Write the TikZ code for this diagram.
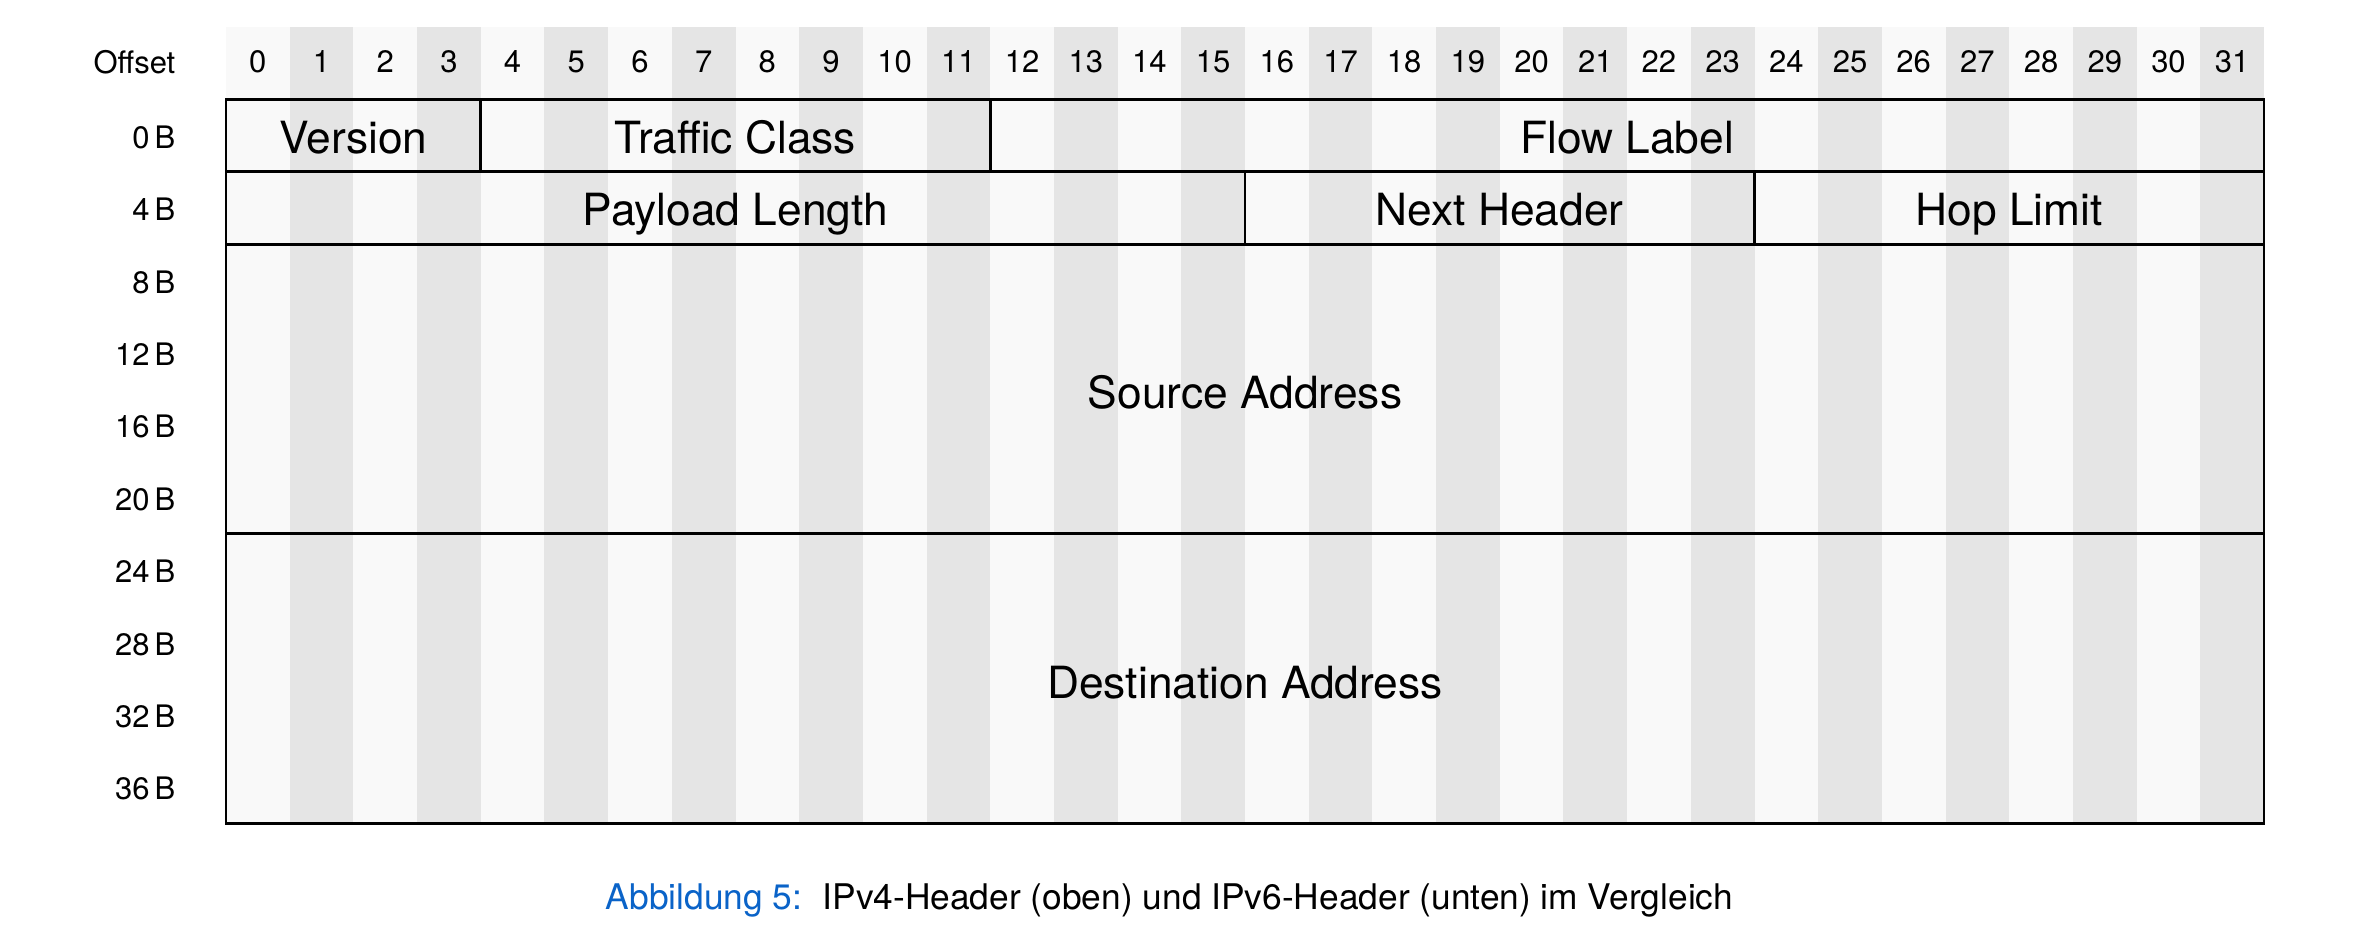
\documentclass[tikz,border=0pt]{standalone}
\usepackage{fontspec}
\setmainfont{TeX Gyre Heros}
\definecolor{stripeA}{HTML}{F9F9F9}
\definecolor{stripeB}{HTML}{E5E5E5}
\definecolor{capblue}{HTML}{0A63C8}
\begin{document}
\begin{tikzpicture}[x=0.3pt,y=-0.3pt,
  frame/.style={draw=black,line width=0.85pt,inner sep=0pt},
  fieldtxt/.style={font=\fontsize{13.3}{15}\selectfont,inner sep=0pt,anchor=base},
  bitnum/.style={font=\fontsize{9.3}{11}\selectfont,inner sep=0pt},
  rowlbl/.style={font=\fontsize{9.3}{11}\selectfont,inner sep=0pt,anchor=east},
  captxt/.style={font=\fontsize{10.6}{13}\selectfont,inner sep=0pt,anchor=west}]
\useasboundingbox (0,0) rectangle (2365,947);
\def\L{226}\def\W{63.6875}\def\T{99.5}\def\H{72.4}
% stripes
\foreach \i in {0,...,31}{
  \pgfmathsetmacro\xa{\L+\i*\W}
  \pgfmathsetmacro\xb{\L+(\i+1)*\W}
  \pgfmathtruncatemacro\odd{mod(\i,2)}
  \ifnum\odd=0 \fill[stripeA] (\xa,27) rectangle (\xb,823.5);
  \else \fill[stripeB] (\xa,27) rectangle (\xb,823.5); \fi
  \pgfmathsetmacro\xc{\L+(\i+0.5)*\W}
  \node[bitnum] (b\i) at (\xc,62) {\i};
}
\node[bitnum,anchor=east] (offset) at (176,62) {Offset};
% row labels
\foreach \r in {0,...,9}{
  \pgfmathtruncatemacro\off{4*\r}
  \pgfmathsetmacro\yc{\T+(\r+0.5)*\H+1.5}
  \node[rowlbl] (r\r) at (176,\yc) {\off\,B};
}
% field frames
\node[frame,minimum width=4*\W*0.3pt,minimum height=\H*0.3pt] (version) at (\L+2*\W,\T+0.5*\H) {};
\node[frame,minimum width=8*\W*0.3pt,minimum height=\H*0.3pt] (tclass) at (\L+8*\W,\T+0.5*\H) {};
\node[frame,minimum width=20*\W*0.3pt,minimum height=\H*0.3pt] (flow) at (\L+22*\W,\T+0.5*\H) {};
\node[frame,minimum width=16*\W*0.3pt,minimum height=\H*0.3pt] (plen) at (\L+8*\W,\T+1.5*\H) {};
\node[frame,minimum width=8*\W*0.3pt,minimum height=\H*0.3pt] (nhdr) at (\L+20*\W,\T+1.5*\H) {};
\node[frame,minimum width=8*\W*0.3pt,minimum height=\H*0.3pt] (hop) at (\L+28*\W,\T+1.5*\H) {};
\node[frame,minimum width=32*\W*0.3pt,minimum height=4*\H*0.3pt] (src) at (\L+16*\W,\T+4*\H) {};
\node[frame,minimum width=32*\W*0.3pt,minimum height=4*\H*0.3pt] (dst) at (\L+16*\W,\T+8*\H) {};
% field labels
\node[fieldtxt] (tversion) at ([yshift=-17.4*0.3pt]version.center) {Version};
\node[fieldtxt] (ttclass) at ([yshift=-17.4*0.3pt]tclass.center) {Traffic Class};
\node[fieldtxt] (tflow) at ([yshift=-17.4*0.3pt]flow.center) {Flow Label};
\node[fieldtxt] (tplen) at ([yshift=-17.2*0.3pt]plen.center) {Payload Length};
\node[fieldtxt] (tnhdr) at ([yshift=-17.2*0.3pt]nhdr.center) {Next Header};
\node[fieldtxt] (thop) at ([yshift=-17.2*0.3pt]hop.center) {Hop Limit};
\node[fieldtxt] (tsrc) at ([yshift=-19.3*0.3pt]src.center) {Source Address};
\node[fieldtxt] (tdst) at ([yshift=-19.5*0.3pt]dst.center) {Destination Address};
% caption
\node[captxt,text=capblue] (capA) at (605,900) {Abbildung 5:};
\node[captxt,anchor=west] (capB) at (822,900) {IPv4-Header (oben) und IPv6-Header (unten) im Vergleich};
\end{tikzpicture}
\end{document}
